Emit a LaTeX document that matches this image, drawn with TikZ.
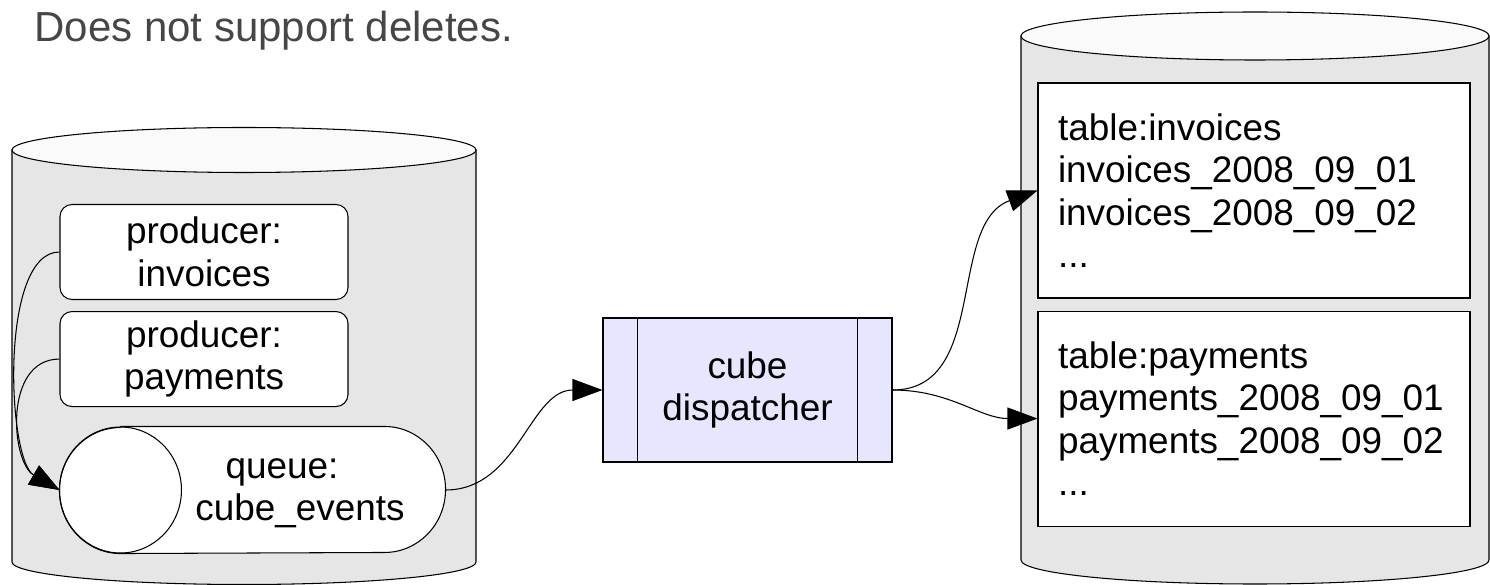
\documentclass[tikz,border=0pt]{standalone}
\usepackage{fontspec}
\setmainfont{Liberation Sans}
\usetikzlibrary{arrows.meta,positioning}
\definecolor{cylbody}{RGB}{230,230,230}
\definecolor{cyltop}{RGB}{250,250,250}
\definecolor{dispfill}{RGB}{230,230,255}
\definecolor{notegray}{RGB}{70,70,70}
\newcommand\bodyfont{\fontsize{21}{24.2}\selectfont}

\begin{document}
\begin{tikzpicture}[line width=0.6pt,
  prodbox/.style={draw,fill=white,rounded corners=0.24cm,minimum width=5.76cm,minimum height=1.9cm,align=center,inner sep=0pt,font=\bodyfont},
  tablebox/.style={draw,fill=white,minimum width=8.64cm,minimum height=4.3cm,text width=7.84cm,inner xsep=0.4cm,align=left,font=\bodyfont},
  dispbox/.style={draw,fill=dispfill,minimum width=5.78cm,minimum height=2.88cm,align=center,font=\bodyfont},
  link/.style={-{Triangle[length=0.6cm,width=0.44cm]}}]
\useasboundingbox (0,0) rectangle (29.8,-11.7);

\node[anchor=base west,text=notegray,font=\fontsize{23.9}{28}\selectfont] (note) at (0.56,-0.84) {Does not support deletes.};

% left database
\draw[fill=cylbody] (0.24,-3) -- (0.24,-11.24) arc[start angle=180,end angle=360,x radius=4.64,y radius=0.45] -- (9.52,-3) -- cycle;
\draw[fill=cyltop] (4.88,-3) ellipse[x radius=4.64,y radius=0.45];

\node[prodbox] (pinv) at (4.08,-5.04) {producer:\\invoices};
\node[prodbox,below=0.22cm of pinv] (ppay) {producer:\\payments};

\node[minimum width=7.7cm,minimum height=2.52cm,inner sep=0pt] (queue) at (5.05,-9.8) {};
\draw[fill=white] ([xshift=1.22cm]queue.north west) -- ([xshift=-1.22cm]queue.north east)
  arc[start angle=90,end angle=-90,x radius=1.22,y radius=1.26] -- ([xshift=1.22cm]queue.south west)
  arc[start angle=270,end angle=90,x radius=1.22,y radius=1.26];
\draw ([xshift=1.22cm]queue.west) ellipse[x radius=1.22,y radius=1.26];
\node[align=center,font=\bodyfont] (qtext) at (6.0,-9.86) {queue:\hspace*{0.72cm}\\cube\_events};

% dispatcher
\node[dispbox] (disp) at (14.95,-7.8) {cube\\dispatcher};
\draw ([xshift=0.7cm]disp.north west) -- ([xshift=0.7cm]disp.south west);
\draw ([xshift=-0.7cm]disp.north east) -- ([xshift=-0.7cm]disp.south east);

% right database
\draw[fill=cylbody] (20.42,-0.72) -- (20.42,-11.2) arc[start angle=180,end angle=360,x radius=4.68,y radius=0.48] -- (29.78,-0.72) -- cycle;
\draw[fill=cyltop] (25.1,-0.72) ellipse[x radius=4.68,y radius=0.48];

\node[tablebox] (tinv) at (25.08,-3.81) {table:invoices\\invoices\_2008\_09\_01\\invoices\_2008\_09\_02\\...};
\node[tablebox,below=0.24cm of tinv] (tpay) {table:payments\\payments\_2008\_09\_01\\payments\_2008\_09\_02\\...};

% connectors
\draw[link] (pinv.west) to[out=180,in=150,looseness=0.65] (queue.west);
\draw[link] (ppay.west) to[out=180,in=150,looseness=1.1] (queue.west);
\draw[link] (queue.east) to[out=0,in=180] (disp.west);
\draw[link] (disp.east) to[out=0,in=200] (tinv.west);
\draw[link] (disp.east) to[out=0,in=180] (tpay.west);
\end{tikzpicture}
\end{document}
